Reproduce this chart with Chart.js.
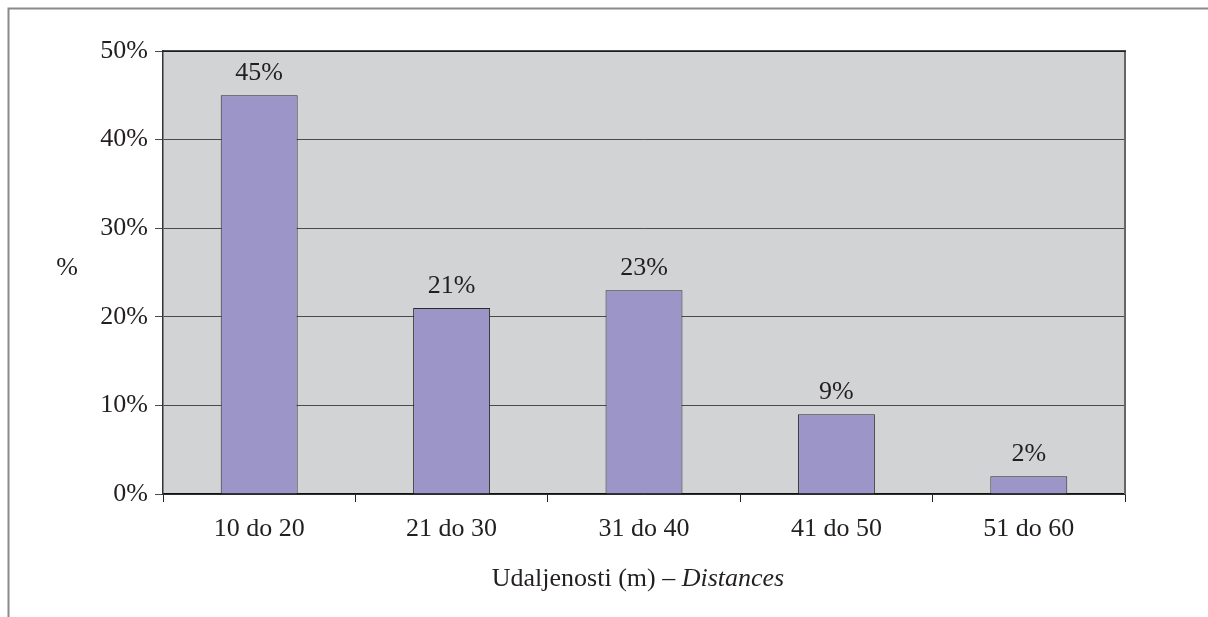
<!DOCTYPE html>
<html>
<head>
<meta charset="utf-8">
<script src="https://cdn.jsdelivr.net/npm/chart.js@4.4.1/dist/chart.umd.min.js"></script>
<style>
html,body{margin:0;padding:0;background:#fff;}
#wrap{width:1208px;height:617px;position:relative;}
</style>
</head>
<body>
<div id="wrap"><canvas id="chart" width="1208" height="617"></canvas></div>
<script>
// data
const categories = ["10 do 20", "21 do 30", "31 do 40", "41 do 50", "51 do 60"];
const shares = [45, 21, 23, 9, 2];
const yTicks = [0, 10, 20, 30, 40, 50];

const serif = "'Liberation Serif', 'Times New Roman', serif";
const ink = "#231f20";
const fs = 26;

// gray plot area, outer frame, right border
const backdrop = {
  id: "backdrop",
  beforeDraw(chart){
    let ctx = chart.ctx;
    let a = chart.chartArea;
    ctx.save();
    ctx.fillStyle = "#d2d3d5";
    ctx.fillRect(a.left, a.top, a.right - a.left, a.bottom - a.top);
    ctx.strokeStyle = "#8a8a8a";
    ctx.lineWidth = 2;
    ctx.beginPath();
    ctx.moveTo(8.5, 620);
    ctx.lineTo(8.5, 8.5);
    ctx.lineTo(1210, 8.5);
    ctx.stroke();
    ctx.restore();
  },
  afterDatasetsDraw(chart){
    let ctx = chart.ctx;
    let a = chart.chartArea;
    ctx.save();
    ctx.strokeStyle = "#666";
    ctx.lineWidth = 2;
    ctx.beginPath();
    ctx.moveTo(a.right, a.top);
    ctx.lineTo(a.right, a.bottom);
    ctx.stroke();
    ctx.strokeStyle = "#111";
    ctx.lineWidth = 1.5;
    ctx.beginPath();
    ctx.moveTo(a.left, a.top);
    ctx.lineTo(a.right + 1, a.top);
    ctx.stroke();

    // value labels
    ctx.fillStyle = ink;
    ctx.font = fs + "px " + serif;
    ctx.textAlign = "center";
    ctx.textBaseline = "middle";
    let meta = chart.getDatasetMeta(0);
    meta.data.forEach(function(bar, i){
      ctx.fillText(shares[i] + "%", bar.x, bar.y - 22);
    });

    // axis titles
    ctx.fillText("%", 67, 268);
    let part1 = "Udaljenosti (m) \u2013 ";
    let part2 = "Distances";
    ctx.font = fs + "px " + serif;
    let w1 = ctx.measureText(part1).width;
    ctx.font = "italic " + fs + "px " + serif;
    let w2 = ctx.measureText(part2).width;
    let x0 = 638 - (w1 + w2) / 2;
    ctx.textAlign = "left";
    ctx.font = fs + "px " + serif;
    ctx.fillText(part1, x0, 579);
    ctx.font = "italic " + fs + "px " + serif;
    ctx.fillText(part2, x0 + w1, 579);
    ctx.restore();
  }
};

new Chart(document.getElementById("chart"), {
  type: "bar",
  data: {
    labels: categories,
    datasets: [{
      data: shares,
      backgroundColor: "#9c95c8",
      borderColor: "#2a2a2a",
      borderWidth: 1,
      barPercentage: 0.4,
      categoryPercentage: 1
    }]
  },
  options: {
    responsive: false,
    animation: false,
    layout: { padding: { left: 0, top: 51, right: 83, bottom: 0 } },
    plugins: { legend: { display: false }, tooltip: { enabled: false } },
    scales: {
      x: {
        afterFit(scale){ scale.height = 123; },
        grid: { offset: true, drawOnChartArea: false, drawTicks: true, tickLength: 8, color: "#222" },
        border: { color: "#111", width: 1.5 },
        ticks: { color: ink, font: { family: serif, size: fs }, padding: 12 }
      },
      y: {
        min: 0,
        max: 50,
        afterFit(scale){ scale.width = 163; },
        afterBuildTicks(scale){ scale.ticks = yTicks.map(v => ({ value: v })); },
        grid: { color: "#4a4a4a", lineWidth: 1, tickLength: 8 },
        border: { color: "#333", width: 1.5 },
        ticks: {
          color: ink,
          font: { family: serif, size: fs },
          padding: 7,
          callback: v => v + "%"
        }
      }
    }
  },
  plugins: [backdrop]
});
</script>
</body>
</html>
